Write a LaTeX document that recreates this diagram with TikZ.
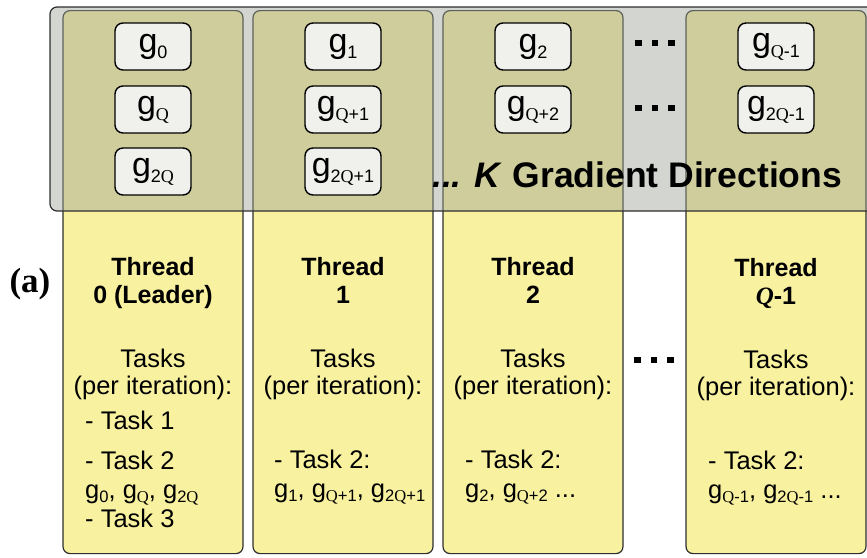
\documentclass[tikz,border=0pt]{standalone}
\usepackage{fontspec}
\setmainfont{Liberation Sans}
\newfontfamily\qfont{Liberation Serif}
\usepackage{graphicx}
\usepackage{tikz}
\usetikzlibrary{positioning}
\definecolor{pad}{HTML}{F8F1A0}
\definecolor{shade}{HTML}{99A095}
\definecolor{chip}{HTML}{F0F0EC}
\definecolor{rim}{HTML}{2E2E2E}
\newcommand{\qs}{{\qfont Q}}
\newcommand{\subsize}{.64}
\newcommand{\gv}[1]{g\raisebox{-.18em}{\scalebox{\subsize}{#1}}}
\newcommand{\sqdots}{\rule{6.5pt}{6.5pt}\hspace{10pt}\rule{6.5pt}{6.5pt}\hspace{10pt}\rule{6.5pt}{6.5pt}}

\begin{document}
\begin{tikzpicture}[
  x=1pt, y=-1pt,
  thread/.style={draw=rim, fill=pad, line width=1.2pt, rounded corners=7pt, minimum width=180pt, minimum height=543pt, anchor=north, inner sep=0pt},
  gradbox/.style={draw=black, fill=chip, line width=1.4pt, rounded corners=8pt, minimum width=76pt, minimum height=47pt, inner sep=0pt, font=\fontsize{34}{34}\selectfont\def\subsize{.53}},
  title/.style={anchor=base, align=center, inner sep=0pt, font=\fontsize{25}{28}\selectfont\bfseries},
  tasks/.style={anchor=base, align=center, inner sep=0pt, font=\fontsize{25.5}{27}\selectfont},
  todo/.style={anchor=base west, align=left, inner sep=0pt, font=\fontsize{25.5}{29}\selectfont\def\subsize{.65}},
  gap/.style={inner sep=0pt}
]
\path[use as bounding box] (0,0) rectangle (867,557);
\clip (0,0) rectangle (867,557);

% thread columns
\foreach \i/\x in {0/153,1/343,2/533,3/776}
  \node[thread] (thr\i) at (\x,10) {};

% shared band of gradient directions, laid over the columns
\draw[draw=rim, line width=1.2pt, fill=shade, fill opacity=.44, rounded corners=7pt] (50,7) rectangle (890,211);

% gradient chips
\node[gradbox] (g00) at (153,46.5) {\gv{0}};
\node[gradbox] (g01) at (153,109.5) {\gv{\qs}};
\node[gradbox] (g02) at (153,171.5) {\gv{2\qs}};
\node[gradbox] (g10) at (343,46.5) {\gv{1}};
\node[gradbox] (g11) at (343,109.5) {\gv{\qs+1}};
\node[gradbox] (g12) at (343,171.5) {\gv{2\qs+1}};
\node[gradbox] (g20) at (533,46.5) {\gv{2}};
\node[gradbox] (g21) at (533,109.5) {\gv{\qs+2}};
\node[gradbox] (g30) at (776,46.5) {\gv{\qs-1}};
\node[gradbox] (g31) at (776,109.5) {\gv{2\qs-1}};

\node[gap] (dotsA) at (655,43) {\sqdots};
\node[gap] (dotsB) at (655,108) {\sqdots};
\node[gap] (dotsC) at (654,360) {\sqdots};

\node[anchor=base west, inner sep=0pt, font=\fontsize{35.5}{35.5}\selectfont\bfseries] (kdirs) at (432,187) {\textit{... K} Gradient Directions};

\node[inner sep=0pt, font=\fontsize{35}{35}\qfont\bfseries] (panel) at (30,284) {(a)};

% thread headers (base = last line)
\node[title] (head0) at (153,303) {Thread\\0 (Leader)};
\node[title] (head1) at (343,303) {Thread\\1};
\node[title] (head2) at (533,303) {Thread\\2};
\node[title] (head3) at (776,304) {Thread\\{\qfont\itshape Q}-1};

\node[tasks] (per0) at (153,394) {Tasks\\(per iteration):};
\node[tasks] (per1) at (343,394) {Tasks\\(per iteration):};
\node[tasks] (per2) at (533,394) {Tasks\\(per iteration):};
\node[tasks] (per3) at (776,395) {Tasks\\(per iteration):};

% per-thread task lists
\node[todo] (todo0a) at (85,429) {- Task 1};
\node[todo] (todo0b) at (85,527) {- Task 2\\\gv{0}, \gv{\qs}, \gv{2\qs}\\- Task 3};
\node[todo] (todo1) at (274,497) {- Task 2:\\\gv{1}, \gv{\qs+1}, \gv{2\qs+1}};
\node[todo] (todo2) at (465,497) {- Task 2:\\\gv{2}, \gv{\qs+2} ...};
\node[todo] (todo3) at (708,498) {- Task 2:\\\gv{\qs-1}, \gv{2\qs-1} ...};
\end{tikzpicture}
\end{document}
